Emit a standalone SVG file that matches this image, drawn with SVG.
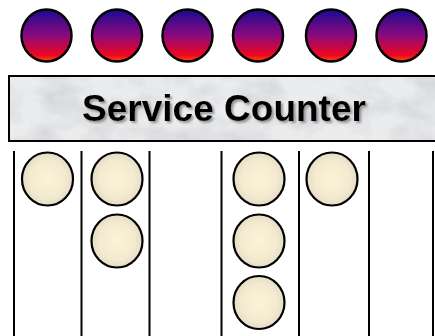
<svg xmlns="http://www.w3.org/2000/svg" width="435" height="336" viewBox="0 0 435 336">
  <defs>
    <linearGradient id="topGrad" x1="0" y1="0" x2="0" y2="1">
      <stop offset="0" stop-color="#1a0a90"/>
      <stop offset="0.5" stop-color="#8a0a7e"/>
      <stop offset="0.88" stop-color="#f0061e"/>
      <stop offset="1" stop-color="#ff5000"/>
    </linearGradient>
    <radialGradient id="custGrad" cx="0.5" cy="0.5" r="0.5">
      <stop offset="0" stop-color="#fdf2d6"/>
      <stop offset="0.7" stop-color="#f3ead0"/>
      <stop offset="1" stop-color="#e4dcc6"/>
    </radialGradient>
    <filter id="marble" x="0" y="0" width="1" height="1">
      <feTurbulence type="fractalNoise" baseFrequency="0.025 0.04" numOctaves="4" seed="7" result="n"/>
      <feColorMatrix in="n" type="matrix" values="0 0 0 0 0.6  0 0 0 0 0.61  0 0 0 0 0.63  0 0 0 -1.5 0.95" result="c"/>
      <feComposite in="c" in2="SourceGraphic" operator="in"/>
    </filter>
    <filter id="shadow" x="-5%" y="-20%" width="110%" height="140%">
      <feGaussianBlur in="SourceAlpha" stdDeviation="0.8" result="b"/>
      <feOffset in="b" dx="2" dy="2" result="o"/>
      <feFlood flood-color="#808080" flood-opacity="0.8"/>
      <feComposite in2="o" operator="in" result="s"/>
      <feMerge><feMergeNode in="s"/><feMergeNode in="SourceGraphic"/></feMerge>
    </filter>
  </defs>
  <style>
    .server { fill: url(#topGrad); stroke: #000; stroke-width: 2.5; }
    .cust { fill: url(#custGrad); stroke: #000; stroke-width: 2.2; }
    .lane { stroke: #000; stroke-width: 2; fill: none; }
    .label { font-family: "Liberation Sans", Arial, sans-serif; font-weight: bold; font-size: 37px; fill: #000; }
  </style>
  <rect width="435" height="336" fill="#fff"/>

  <g id="servers">
    <g id="server1"><ellipse class="server" cx="46.5" cy="35.5" rx="25" ry="26"/></g>
    <g id="server2"><ellipse class="server" cx="117" cy="35.5" rx="25" ry="26"/></g>
    <g id="server3"><ellipse class="server" cx="187.5" cy="35.5" rx="25" ry="26"/></g>
    <g id="server4"><ellipse class="server" cx="258" cy="35.5" rx="25" ry="26"/></g>
    <g id="server5"><ellipse class="server" cx="331" cy="35.5" rx="25" ry="26"/></g>
    <g id="server6"><ellipse class="server" cx="401.5" cy="35.5" rx="25" ry="26"/></g>
  </g>

  <g id="counter">
    <rect x="9" y="76" width="430" height="65" fill="#eaecee"/>
    <rect x="9" y="76" width="430" height="65" fill="#fff" filter="url(#marble)"/>
    <rect x="9" y="76" width="430" height="65" fill="none" stroke="#000" stroke-width="2"/>
    <text class="label" x="224" y="121" text-anchor="middle" filter="url(#shadow)">Service Counter</text>
  </g>

  <g id="connectors">
    <line class="lane" x1="14" y1="151" x2="14" y2="336"/>
    <line class="lane" x1="81.5" y1="151" x2="81.5" y2="336"/>
    <line class="lane" x1="149.5" y1="151" x2="149.5" y2="336"/>
    <line class="lane" x1="221.5" y1="151" x2="221.5" y2="336"/>
    <line class="lane" x1="299" y1="151" x2="299" y2="336"/>
    <line class="lane" x1="369" y1="151" x2="369" y2="336"/>
    <line class="lane" x1="433" y1="151" x2="433" y2="336"/>
  </g>

  <g id="customers">
    <g id="cust1"><ellipse class="cust" cx="47.5" cy="179" rx="25.5" ry="26.5"/></g>
    <g id="cust2"><ellipse class="cust" cx="117" cy="179" rx="25.5" ry="26.5"/></g>
    <g id="cust3"><ellipse class="cust" cx="117" cy="241" rx="25.5" ry="26.5"/></g>
    <g id="cust4"><ellipse class="cust" cx="259" cy="179" rx="25.5" ry="26.5"/></g>
    <g id="cust5"><ellipse class="cust" cx="259" cy="241" rx="25.5" ry="26.5"/></g>
    <g id="cust6"><ellipse class="cust" cx="259" cy="302.5" rx="25.5" ry="26.5"/></g>
    <g id="cust7"><ellipse class="cust" cx="332" cy="179" rx="25.5" ry="26.5"/></g>
  </g>
</svg>
